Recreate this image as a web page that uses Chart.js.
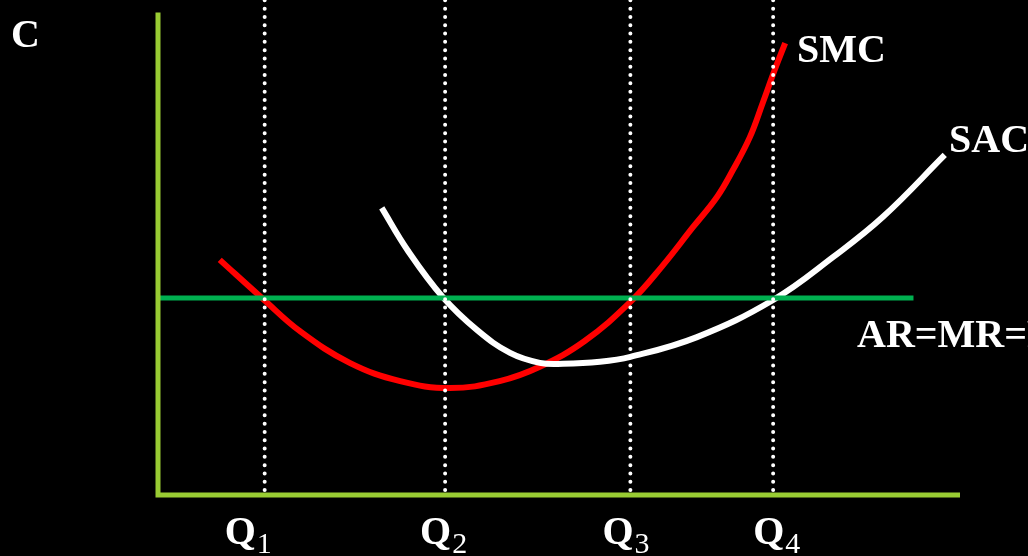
<!DOCTYPE html>
<html>
<head>
<meta charset="utf-8">
<script src="https://cdn.jsdelivr.net/npm/chart.js@4/dist/chart.umd.min.js"></script>
<style>
  html, body { margin: 0; padding: 0; background: #000; }
  #wrap { width: 1028px; height: 556px; position: relative; }
</style>
</head>
<body>
<div id="wrap"><canvas id="costChart"></canvas></div>
<script>
// quantity / cost values (axis units 0..100)
var smcX = [7.7, 13.1, 17.7, 23.9, 30.2, 36.4, 42.6, 47.6, 53.2, 58.9, 62.8, 66.7, 69.7, 71.7, 73.8, 75.4, 76.9, 78.2];
var smcY = [47.5, 39.6, 33.1, 26.7, 23.0, 21.6, 23.0, 25.9, 31.1, 39.0, 46.1, 54.1, 60.2, 65.7, 72.3, 79.2, 85.9, 91.3];
var sacX = [27.9, 31.1, 35.5, 39.8, 43.9, 47.6, 50.5, 55.1, 58.9, 67.2, 76.7, 84.2, 90.4, 98.1];
var sacY = [58.0, 49.5, 40.0, 33.3, 28.7, 26.7, 26.5, 26.9, 27.9, 31.9, 39.4, 48.1, 56.2, 68.7];
var priceLevel = 39.8;
var priceEnd = 94.2;
var qValues = [13.3, 35.8, 58.9, 76.7];
var qLabels = ['Q', 'Q', 'Q', 'Q'];
var qSubs = ['1', '2', '3', '4'];

function pts(xs, ys) {
    return xs.map(function(x, i) { return { x: x, y: ys[i] }; });
}

var datasets = [];
// dotted verticals
qValues.forEach(function(q) {
    datasets.push({
        data: [{ x: q, y: 1 }, { x: q, y: 100 }],
        borderColor: '#ffffff',
        borderWidth: 4,
        borderDash: [0, 8.3],
        borderCapStyle: 'round',
        pointRadius: 0,
        clip: false
    });
});
// axes
datasets.push({
    data: [{ x: 0, y: 97.5 }, { x: 0, y: 0 }, { x: 100, y: 0 }],
    borderColor: '#99cc33',
    borderWidth: 5,
    borderJoinStyle: 'miter',
    pointRadius: 0,
    clip: false
});
// AR = MR = P
datasets.push({
    data: [{ x: 0, y: priceLevel }, { x: priceEnd, y: priceLevel }],
    borderColor: '#00b050',
    borderWidth: 5,
    pointRadius: 0,
    clip: false
});
// SAC
datasets.push({
    data: pts(sacX, sacY),
    borderColor: '#ffffff',
    borderWidth: 6,
    tension: 0.4,
    pointRadius: 0,
    clip: false
});
// SMC
datasets.push({
    data: pts(smcX, smcY),
    borderColor: '#ff0000',
    borderWidth: 6,
    tension: 0.4,
    pointRadius: 0,
    clip: false
});

var labelPlugin = {
    id: 'labels',
    afterDraw: function(chart) {
        var ctx = chart.ctx;
        var xs = chart.scales.x;
        ctx.save();
        ctx.fillStyle = '#ffffff';
        ctx.textBaseline = 'alphabetic';
        ctx.textAlign = 'left';
        ctx.font = 'bold 40px "Liberation Serif", "Times New Roman", serif';
        ctx.fillText('C', 11, 47);
        ctx.fillText('SMC', 797, 62);
        ctx.fillText('SAC', 949, 152);
        ctx.fillText('AR=MR=P', 857, 347);

        var offsets = [-40, -25, -28, -20];
        qValues.forEach(function(q, i) {
            var left = xs.getPixelForValue(q) + offsets[i];
            ctx.font = 'bold 40px "Liberation Serif", "Times New Roman", serif';
            ctx.fillText(qLabels[i], left, 544);
            var w = ctx.measureText(qLabels[i]).width;
            ctx.font = '30px "Liberation Serif", "Times New Roman", serif';
            ctx.fillText(qSubs[i], left + w + 1, 553);
        });
        ctx.restore();
    }
};

new Chart(document.getElementById('costChart').getContext('2d'), {
    type: 'line',
    data: { datasets: datasets },
    options: {
        responsive: true,
        maintainAspectRatio: false,
        animation: false,
        events: [],
        layout: { padding: { left: 158, right: 68, top: 0, bottom: 61 } },
        scales: {
            x: { type: 'linear', min: 0, max: 100, display: false },
            y: { type: 'linear', min: 0, max: 100, display: false }
        },
        plugins: {
            legend: { display: false },
            tooltip: { enabled: false }
        }
    },
    plugins: [labelPlugin]
});
</script>
</body>
</html>
